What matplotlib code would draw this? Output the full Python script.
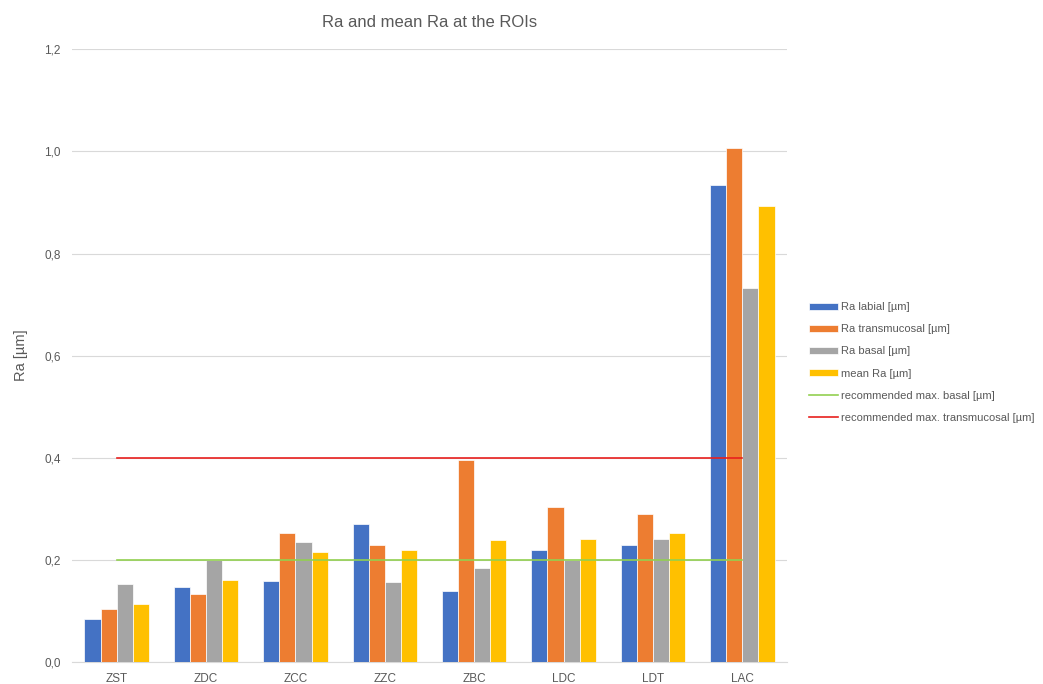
import numpy as np
import matplotlib

matplotlib.use("Agg")
import matplotlib.pyplot as plt

plt.rcParams["font.family"] = ["Liberation Sans", "DejaVu Sans"]

categories = ["ZST", "ZDC", "ZCC", "ZZC", "ZBC", "LDC", "LDT", "LAC"]
ra_labial = [0.084, 0.147, 0.159, 0.270, 0.139, 0.219, 0.229, 0.934]
ra_transmucosal = [0.104, 0.133, 0.253, 0.229, 0.395, 0.303, 0.290, 1.006]
ra_basal = [0.153, 0.200, 0.235, 0.157, 0.184, 0.200, 0.241, 0.732]
mean_ra = [0.114, 0.161, 0.215, 0.219, 0.239, 0.241, 0.253, 0.893]
rec_basal = [0.2] * len(categories)
rec_transmucosal = [0.4] * len(categories)

series = [
    ("Ra labial [µm]", ra_labial, "#4472C4"),
    ("Ra transmucosal [µm]", ra_transmucosal, "#ED7D31"),
    ("Ra basal [µm]", ra_basal, "#A5A5A5"),
    ("mean Ra [µm]", mean_ra, "#FFC000"),
]

fig = plt.figure(figsize=(10.43, 6.84), dpi=100)
ax = fig.add_axes([0.069, 0.032, 0.6856, 0.896])

x = np.arange(len(categories))
w = 0.18
handles = []
for i, (label, vals, color) in enumerate(series):
    b = ax.bar(x + (i - 1.5) * w, vals, w, color=color, label=label,
               edgecolor="white", linewidth=0.5, zorder=3)
    handles.append(b)

l1, = ax.plot(x, rec_basal, color="#92D050", linewidth=1.2, zorder=4,
              label="recommended max. basal [µm]")
l2, = ax.plot(x, rec_transmucosal, color="#E8201E", linewidth=1.2, zorder=4,
              label="recommended max. transmucosal [µm]")

ax.set_xlim(-0.5, len(categories) - 0.5)
ax.set_ylim(0, 1.2)
ticks = np.arange(0, 1.21, 0.2)
ax.set_yticks(ticks)
ax.set_yticklabels([f"{v:.1f}".replace(".", ",") for v in ticks])
ax.set_xticks(x)
ax.set_xticklabels(categories)
ax.tick_params(axis="both", length=0, labelsize=8.5, colors="#595959", pad=8)
ax.yaxis.grid(True, color="#D9D9D9", linewidth=0.8, zorder=0)
for s in ["top", "right", "left"]:
    ax.spines[s].set_visible(False)
ax.spines["bottom"].set_color("#D9D9D9")
ax.set_ylabel("Ra [µm]", fontsize=10.5, color="#595959", labelpad=12)
ax.set_title("Ra and mean Ra at the ROIs", fontsize=12, color="#595959", pad=16)

fig.legend(handles + [l1, l2], [h.get_label() for h in handles + [l1, l2]],
           loc="center left", bbox_to_anchor=(0.766, 0.47), frameon=False,
           fontsize=8, labelcolor="#595959", handlelength=2.6,
           handleheight=0.6, labelspacing=1.1, handletextpad=0.25)

fig.savefig("out.png", dpi=100, facecolor="white")
